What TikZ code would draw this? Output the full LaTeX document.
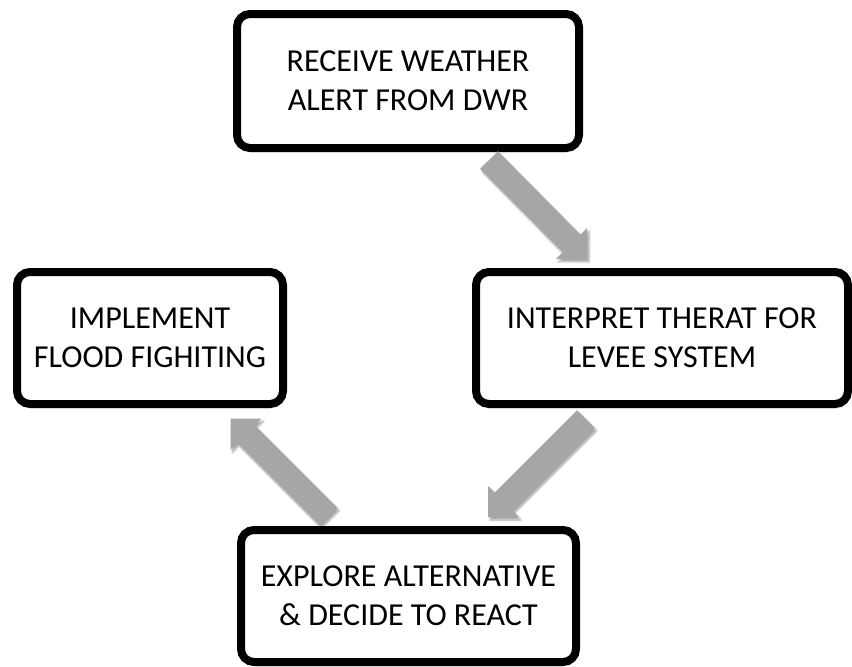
\documentclass[tikz,border=0pt]{standalone}
\usepackage{fontspec}
\setmainfont{Carlito}
\usetikzlibrary{calc,shadows.blur}

\definecolor{arrowgray}{HTML}{A6A6A6}

\tikzset{
  stepbox/.style={
    draw=black, fill=white, line width=8pt, rounded corners=13pt,
    align=center, inner sep=0pt,
    font=\fontsize{32}{39}\selectfont,
    blur shadow={shadow xshift=1.5pt, shadow yshift=-3pt,
                 shadow blur steps=6, shadow opacity=35}
  },
  flowarrow/.style={
    fill=arrowgray, draw=none,
    blur shadow={shadow xshift=2pt, shadow yshift=-3pt,
                 shadow blur steps=6, shadow opacity=35}
  }
}

% wide block arrow from tail #1 to tip #2 (shaft half-width 12.5, head half-width 22)
\newcommand{\blockarrow}[2]{%
  \coordinate (base) at ($(#2)!22pt!(#1)$);
  \path[flowarrow]
    ($(#1)!12.5pt!90:(#2)$) -- ($(base)!12.5pt!90:(#2)$) --
    ($(base)!22pt!90:(#2)$) -- (#2) --
    ($(base)!22pt!-90:(#2)$) -- ($(base)!12.5pt!-90:(#2)$) --
    ($(#1)!12.5pt!-90:(#2)$) -- cycle;
}

\begin{document}
\begin{tikzpicture}[x=1pt, y=-1pt]
  \useasboundingbox (0,0) rectangle (852,667);

  % process steps
  \node[stepbox, minimum width=342pt, minimum height=134pt] (alert)
    at (408,81) {RECEIVE WEATHER\\ALERT FROM DWR};
  \node[stepbox, minimum width=372pt, minimum height=132pt] (threat)
    at (662,338) {INTERPRET THERAT FOR\\LEVEE SYSTEM};
  \node[stepbox, minimum width=335pt, minimum height=132pt] (explore)
    at (408.5,596) {EXPLORE ALTERNATIVE\\\& DECIDE TO REACT};
  \node[stepbox, minimum width=266pt, minimum height=132pt] (flood)
    at (150,338) {IMPLEMENT\\FLOOD FIGHITING};

  % arrow ends
  \coordinate (a1t) at (489,160);
  \coordinate (a1h) at (587,259);
  \coordinate (a2t) at (586,419);
  \coordinate (a2h) at (488,517);
  \coordinate (a3t) at (328.5,516.5);
  \coordinate (a3h) at (230.5,418.5);

  \blockarrow{a1t}{a1h}
  \blockarrow{a2t}{a2h}
  \blockarrow{a3t}{a3h}
\end{tikzpicture}
\end{document}
